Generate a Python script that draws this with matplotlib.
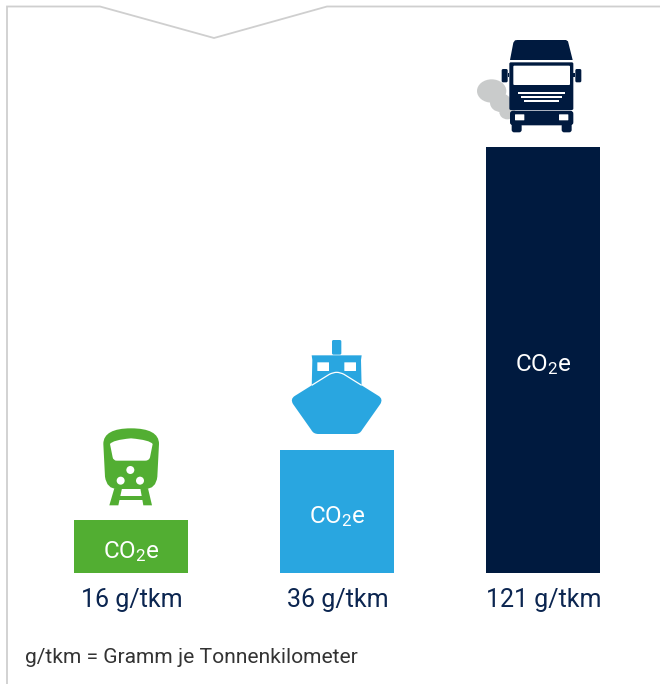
import matplotlib
matplotlib.use("Agg")
import matplotlib.pyplot as plt
from matplotlib.patches import Polygon, Ellipse, FancyBboxPatch, Circle, PathPatch
from matplotlib.path import Path

plt.rcParams['font.family'] = ['Roboto', 'DejaVu Sans']
plt.rcParams['mathtext.fontset'] = 'custom'
plt.rcParams['mathtext.rm'] = 'Roboto'
plt.rcParams['mathtext.default'] = 'rm'

categories = ["Bahn", "Schiff", "Lkw"]
values = [15, 35, 121]
value_labels = ["16 g/tkm", "36 g/tkm", "121 g/tkm"]
bar_label = r"CO$_{2}$e"
footnote = "g/tkm = Gramm je Tonnenkilometer"
colors = ["#52AE32", "#29A6E0", "#001A3F"]
NAVY = "#001A3F"
TEXT = "#0B2550"
GREEN, BLUE = colors[0], colors[1]
SMOKE = "#C9CBCB"

W, H = 660, 684
fig = plt.figure(figsize=(W / 100, H / 100), dpi=100, facecolor="white")

# overlay in pixel coordinates for frame and pictograms
ov = fig.add_axes([0, 0, 1, 1], zorder=1)
ov.set_xlim(0, W); ov.set_ylim(H, 0); ov.axis("off")

# bar axes: baseline at y=573 px, 3.52 px per g/tkm
base_px, px_per = 573, 3.52
ax = fig.add_axes([0, (H - base_px) / H, 1, base_px / H], zorder=2)
ax.patch.set_alpha(0)
ax.set_xlim(-131 / 206, (W - 131) / 206)
ax.set_ylim(0, base_px / px_per)
ax.axis("off")
x = list(range(len(categories)))
ax.bar(x, values, width=114 / 206, color=colors, linewidth=0)

# value text inside bars and labels below
for i, v in enumerate(values):
    ax.annotate(bar_label, (i, v / 2), xytext=(0, -3.4), textcoords="offset points",
                color="white", fontsize=17.5, ha="center", va="center")
    ax.annotate(value_labels[i], (i, 0), xytext=(0.3, -19.3), textcoords="offset points",
                annotation_clip=False, color=TEXT, fontsize=18, ha="center", va="center")
ov.text(25, 657.5, footnote, color="#333333", fontsize=15.15, ha="left", va="center")

# frame with notch
ov.plot([7, 7, 100, 214, 327, 660], [684, 6.5, 6.5, 38, 6.5, 6.5], color="#CFCFCF", lw=1.3,
        solid_joinstyle="miter", clip_on=False)


def rrect(x0, y0, x1, y1, r, c, z=3):
    ov.add_patch(FancyBboxPatch((x0 + r, y0 + r), x1 - x0 - 2 * r, y1 - y0 - 2 * r,
                                boxstyle=f"round,pad={r},rounding_size={r}", fc=c, ec="none", zorder=z))


# ---- truck (zoom coords: offset 460,30, scale 3)
tx = lambda a: 460 + a / 3
ty = lambda b: 30 + b / 3
def T(*pts):
    return [(tx(a), ty(b)) for a, b in pts]
def trect(a0, b0, a1, b1, r, c, z=3):
    rrect(tx(a0), ty(b0), tx(a1), ty(b1), r, c, z)

for (a, b, rx, ry) in [(95, 183, 44, 35), (122, 218, 32, 28), (142, 246, 24, 22)]:
    ov.add_patch(Ellipse((tx(a), ty(b)), 2 * rx / 3, 2 * ry / 3, fc=SMOKE, ec="none", zorder=2))
ov.add_patch(Polygon(T((165, 31), (172, 30), (318, 30), (324, 34), (338, 90), (150, 90), (160, 38)),
                     fc=NAVY, ec="none", zorder=3))
trect(148, 97, 340, 240, 1.5, NAVY)
trect(150, 242, 340, 286, 3, NAVY)
trect(160, 107, 330, 165, 1, "white", 4)
for a0, a1 in [(125, 143), (346, 364)]:
    trect(a0, 117, a1, 157, 1.5, NAVY)
ov.add_patch(Polygon(T((143, 130), (148, 130), (148, 140), (143, 140)), fc=NAVY, ec="none", zorder=3))
ov.add_patch(Polygon(T((340, 130), (346, 130), (346, 140), (340, 140)), fc=NAVY, ec="none", zorder=3))
for a0, a1, b in [(174, 315, 186), (184, 305, 198), (193, 296, 210)]:
    ov.add_patch(Polygon(T((a0, b), (a1, b), (a1, b + 6), (a0, b + 6)), fc="white", ec="none", zorder=4))
for a0, a1 in [(165, 193), (297, 325)]:
    trect(a0, 253, a1, 271, 0.5, "white", 4)
for a0, a1 in [(155, 185), (305, 335)]:
    trect(a0, 280, a1, 307, 2.5, NAVY)

# ---- ship (offset 270,330)
sx = lambda a: 270 + a / 3
sy = lambda b: 330 + b / 3
def S(*pts):
    return [(sx(a), sy(b)) for a, b in pts]
rrect(sx(186), sy(30), sx(214), sy(74), 1.5, BLUE)
ov.add_patch(Polygon(S((125, 76), (275, 76), (273, 90), (275, 175), (125, 175), (127, 90)),
                     fc=BLUE, ec="none", zorder=3))
for a0, a1 in [(142, 177), (223, 258)]:
    rrect(sx(a0), sy(97), sx(a1), sy(123), 0.3, "white", 4)
hull = Path(S((200, 127), (190, 127), (178, 133), (74, 198), (60, 207), (69, 222),
              (124, 300), (130, 312), (145, 312), (255, 312), (270, 312), (276, 300),
              (331, 222), (340, 207), (326, 198), (222, 133), (210, 127), (200, 127)),
            [Path.MOVETO, Path.CURVE3, Path.CURVE3, Path.LINETO, Path.CURVE3, Path.CURVE3,
             Path.LINETO, Path.CURVE3, Path.CURVE3, Path.LINETO, Path.CURVE3, Path.CURVE3,
             Path.LINETO, Path.CURVE3, Path.CURVE3, Path.LINETO, Path.CURVE3, Path.CURVE3])
ov.add_patch(PathPatch(hull, fc=BLUE, ec="none", zorder=5))
# thin white line separating the bow from the superstructure
bow = Path(S((125, 166), (178, 133), (190, 127), (200, 127), (210, 127), (222, 133), (275, 166)),
           [Path.MOVETO, Path.LINETO, Path.CURVE3, Path.CURVE3, Path.CURVE3, Path.CURVE3, Path.LINETO])
ov.add_patch(PathPatch(bow, fc="none", ec="white", lw=0.9, zorder=6))

# ---- train (offset 70,420)
rx_ = lambda a: 70 + a / 3
ry_ = lambda b: 420 + b / 3
def R(*pts):
    return [(rx_(a), ry_(b)) for a, b in pts]
body = Path(R((100, 72), (100, 40), (130, 25), (183, 25), (237, 25), (267, 40), (267, 72),
              (262, 170), (258, 207), (225, 207), (142, 207), (110, 207), (105, 170), (100, 72)),
            [Path.MOVETO, Path.CURVE4, Path.CURVE4, Path.CURVE4, Path.CURVE4, Path.CURVE4, Path.CURVE4,
             Path.LINETO, Path.CURVE3, Path.CURVE3, Path.LINETO, Path.CURVE3, Path.CURVE3, Path.LINETO])
ov.add_patch(PathPatch(body, fc=GREEN, ec="none", zorder=3))
win = Path(R((120, 72), (128, 60), (183, 55), (240, 60), (248, 72), (240, 112), (237, 122),
             (226, 122), (140, 122), (130, 122), (128, 112), (120, 72)),
           [Path.MOVETO, Path.CURVE3, Path.CURVE3, Path.CURVE3, Path.CURVE3, Path.LINETO, Path.CURVE3,
            Path.CURVE3, Path.LINETO, Path.CURVE3, Path.CURVE3, Path.LINETO])
ov.add_patch(PathPatch(win, fc="white", ec="none", zorder=4))
for a, b in [(181, 150), (152, 182), (210, 182)]:
    ov.add_patch(Circle((rx_(a), ry_(b)), 12 / 3, fc="white", ec="none", zorder=4))
ov.add_patch(Polygon(R((133, 205), (156, 205), (145, 256), (118, 256)), fc=GREEN, ec="none", zorder=3))
ov.add_patch(Polygon(R((211, 205), (234, 205), (246, 256), (220, 256)), fc=GREEN, ec="none", zorder=3))
ov.add_patch(Polygon(R((150, 228), (218, 228), (222, 240), (146, 240)), fc=GREEN, ec="none", zorder=3))

fig.savefig("out.png", dpi=100, facecolor="white")
